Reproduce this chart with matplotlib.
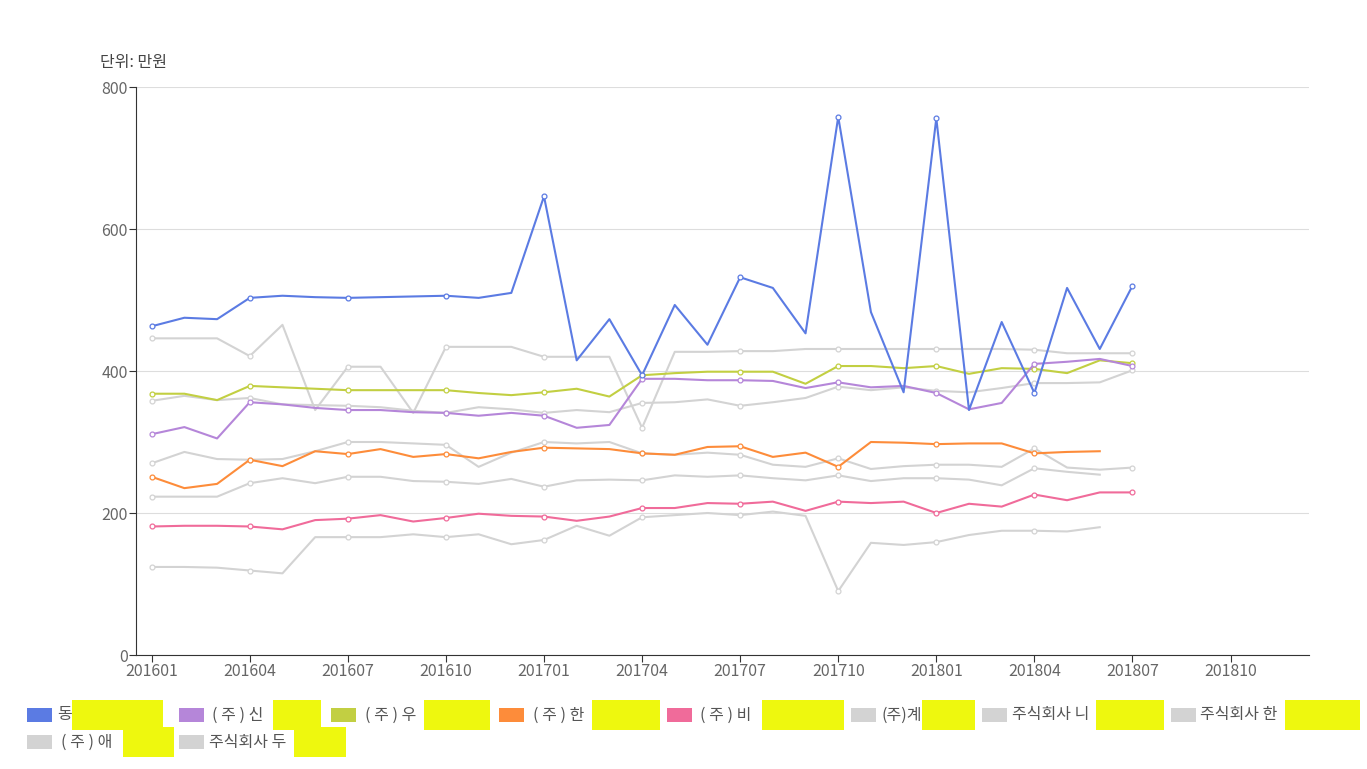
import numpy as np
import matplotlib
matplotlib.use('Agg')
import matplotlib.pyplot as plt
from matplotlib.patches import Rectangle

plt.rcParams['font.family'] = ['Noto Sans CJK KR', 'DejaVu Sans']

# months 201601 .. 201807
months = ['%d%02d' % (2016 + m // 12, m % 12 + 1) for m in range(31)]
tick_labels = ['201601', '201604', '201607', '201610', '201701', '201704',
               '201707', '201710', '201801', '201804', '201807', '201810']

nan = np.nan
dong = [463, 475, 473, 503, 506, 504, 503, 504, 505, 506, 503, 510, 646, 415, 473,
        394, 493, 437, 532, 517, 453, 758, 483, 370, 756, 345, 469, 369, 517, 431, 520]
shin = [311, 321, 305, 356, 353, 348, 345, 345, 342, 341, 337, 341, 337, 320, 324,
        389, 389, 387, 387, 386, 376, 384, 377, 379, 369, 346, 355, 410, 413, 417, 407]
woo = [368, 368, 359, 379, 377, 375, 373, 373, 373, 373, 369, 366, 370, 375, 364,
       394, 397, 399, 399, 399, 382, 407, 407, 404, 407, 396, 404, 403, 397, 415, 411]
han = [251, 235, 241, 275, 266, 287, 283, 290, 279, 283, 277, 286, 292, 291, 290,
       284, 282, 293, 294, 279, 285, 265, 300, 299, 297, 298, 298, 284, 286, 287, nan]
bi = [181, 182, 182, 181, 177, 190, 192, 197, 188, 193, 199, 196, 195, 189, 195,
      207, 207, 214, 213, 216, 203, 216, 214, 216, 200, 213, 209, 226, 218, 229, 229]
gye = [446, 446, 446, 421, 465, 345, 406, 406, 341, 434, 434, 434, 420, 420, 420,
       320, 427, 427, 428, 428, 431, 431, 431, 431, 431, 431, 431, 430, 425, 425, 425]
ni = [358, 365, 359, 362, 353, 352, 351, 349, 344, 341, 349, 346, 341, 345, 342,
      355, 356, 360, 351, 356, 362, 378, 373, 377, 372, 370, 376, 383, 383, 384, 401]
han2 = [270, 286, 276, 275, 276, 287, 300, 300, 298, 296, 265, 285, 300, 298, 300,
        284, 282, 285, 282, 268, 265, 277, 262, 266, 268, 268, 265, 291, 264, 261, 264]
ae = [223, 223, 223, 242, 249, 242, 251, 251, 245, 244, 241, 248, 237, 246, 247,
      246, 253, 251, 253, 249, 246, 253, 245, 249, 249, 247, 239, 263, 258, 254, nan]
du = [124, 124, 123, 119, 115, 166, 166, 166, 170, 166, 170, 156, 162, 182, 168,
      194, 197, 200, 197, 202, 196, 90, 158, 155, 159, 169, 175, 175, 174, 180, nan]

names = ['동', '( 주 ) 신', '( 주 ) 우', '( 주 ) 한', '( 주 ) 비',
         '(주)계', '주식회사 니', '주식회사 한', '( 주 ) 애', '주식회사 두']
series = [dong, shin, woo, han, bi, gye, ni, han2, ae, du]
gray = '#d3d3d3'
colors = ['#5b7be3', '#b586d9', '#c2cf42', '#fd8c3a', '#f06b9a',
          gray, gray, gray, gray, gray]

W, H = 1367, 769
fig = plt.figure(figsize=(W / 100, H / 100), dpi=100)
ax = fig.add_axes([136 / W, 1 - 655 / H, (1309 - 136) / W, (655 - 87) / H])

x = np.arange(len(months))
# grays first so the coloured ones sit on top like the reference
order = [5, 6, 7, 8, 9, 4, 3, 2, 1, 0]
for k in order:
    ax.plot(x, series[k], color=colors[k], lw=1.5, marker='o', markevery=3,
            markersize=3.5, markerfacecolor='white', markeredgecolor=colors[k],
            markeredgewidth=0.9, zorder=3)

ax.set_ylim(0, 800)
ax.set_yticks([0, 200, 400, 600, 800])
ax.set_xlim(-0.48, 35.4)
ax.set_xticks(np.arange(0, 36, 3))
ax.set_xticklabels(tick_labels)
ax.grid(axis='y', color='#dddddd', lw=0.8, zorder=0)
for s in ['top', 'right']:
    ax.spines[s].set_visible(False)
for s in ['left', 'bottom']:
    ax.spines[s].set_color('#333333')
ax.tick_params(axis='both', colors='#333333', labelcolor='#666666',
               labelsize=11.5, length=5)
ax.tick_params(axis='x', pad=1)
ax.tick_params(axis='y', pad=1)

fig.text(100 / W, 1 - 62 / H, '단위: 만원', ha='left', va='center',
         fontsize=11.5, color='#444444')

# legend, built by hand to match the two-row layout
legend_items = [  # swatch x, text x, row y, yellow box (x0, x1)
    (27, 57, 715, (72, 163)),
    (179, 212, 715, (273, 321)),
    (331, 365, 715, (424, 490)),
    (499, 533, 715, (592, 660)),
    (667, 700, 715, (762, 844)),
    (851, 881, 715, (922, 975)),
    (982, 1012, 715, (1096, 1164)),
    (1171, 1200, 715, (1285, 1360)),
    (27, 61, 742, (123, 174)),
    (179, 209, 742, (294, 346)),
]
for k, (sx, tx, ry, (y0, y1)) in enumerate(legend_items):
    fig.add_artist(Rectangle((sx / W, 1 - (ry + 7) / H), 25 / W, 14 / H,
                             transform=fig.transFigure, color=colors[k], lw=0))
    fig.text(tx / W, 1 - ry / H, names[k], ha='left', va='center',
             fontsize=11.5, color='#555555')
    fig.add_artist(Rectangle((y0 / W, 1 - (ry + 15) / H), (y1 - y0) / W, 30 / H,
                             transform=fig.transFigure, color='#eef80e', lw=0,
                             zorder=5))

fig.savefig('out.png', dpi=100)
